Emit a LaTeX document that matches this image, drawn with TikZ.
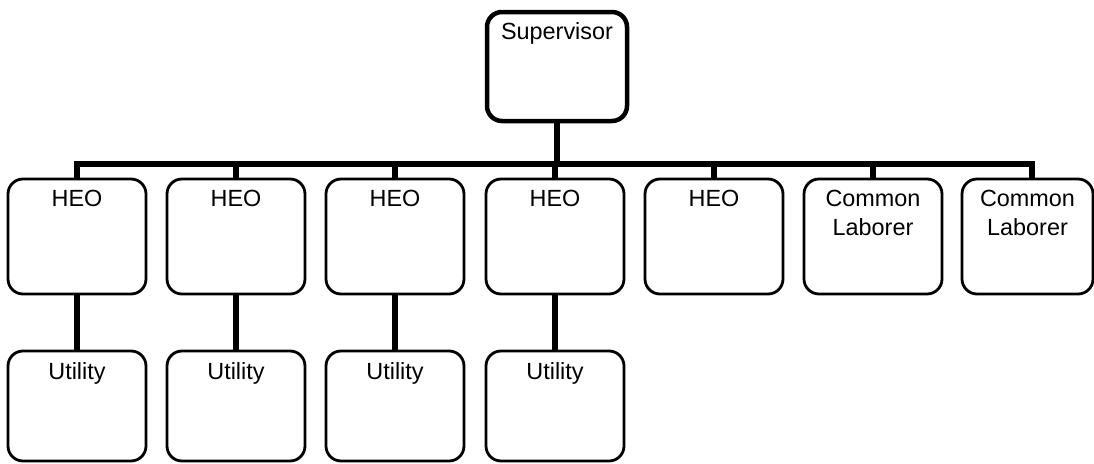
\documentclass[tikz,border=0pt]{standalone}
\usepackage{fontspec}
\setmainfont{Liberation Sans}
\begin{document}
\begin{tikzpicture}[x=1pt,y=-1pt,
  box/.style={draw, line width=2.8pt, rounded corners=15pt, minimum width=138pt, inner sep=0pt},
  heo/.style={box, minimum height=115pt},
  util/.style={box, minimum height=110pt},
  lbl/.style={anchor=north, inner sep=0pt, yshift=-12.5pt, font=\fontsize{23.4}{29}\selectfont, align=center},
  conn/.style={line width=6.5pt}]
\fill[white] (0,0) rectangle (1094,463);
\useasboundingbox (0,0) rectangle (1094,463);

% supervisor
\node[box, line width=4.5pt, minimum width=140pt, minimum height=109pt] (sup) at (557,66.5) {};
\node[lbl] (ts) at (sup.north) {Supervisor};

% second level
\foreach \i/\x in {1/77,2/236,3/395,4/555,5/714,6/873}
  \node[heo] (h\i) at (\x,236.5) {};
\node[heo, minimum width=131pt] (h7) at (1027.5,236.5) {};
\foreach \i in {1,...,5}
  \node[lbl] (th\i) at (h\i.north) {HEO};
\node[lbl] (th6) at (h6.north) {Common\\Laborer};
\node[lbl] (th7) at (h7.north) {Common\\Laborer};

% third level
\foreach \i/\x in {1/77,2/236,3/395,4/555}
  \node[util] (u\i) at (\x,406) {};
\foreach \i in {1,...,4}
  \node[lbl] (tu\i) at (u\i.north) {Utility};

% connectors
\coordinate (bus) at (0,164);
\coordinate (bR) at (1032,164);
\draw[conn, line join=miter] (h1.north) -- (h1.north |- bus) -- (bR) -- (bR |- h7.north);
\foreach \i in {2,...,6}
  \draw[conn] (h\i.north) -- (h\i.north |- bus);
\draw[conn] (sup.south) -- (sup.south |- bus);
\foreach \i in {1,...,4}
  \draw[conn] (h\i.south) -- (u\i.north);
\end{tikzpicture}
\end{document}
